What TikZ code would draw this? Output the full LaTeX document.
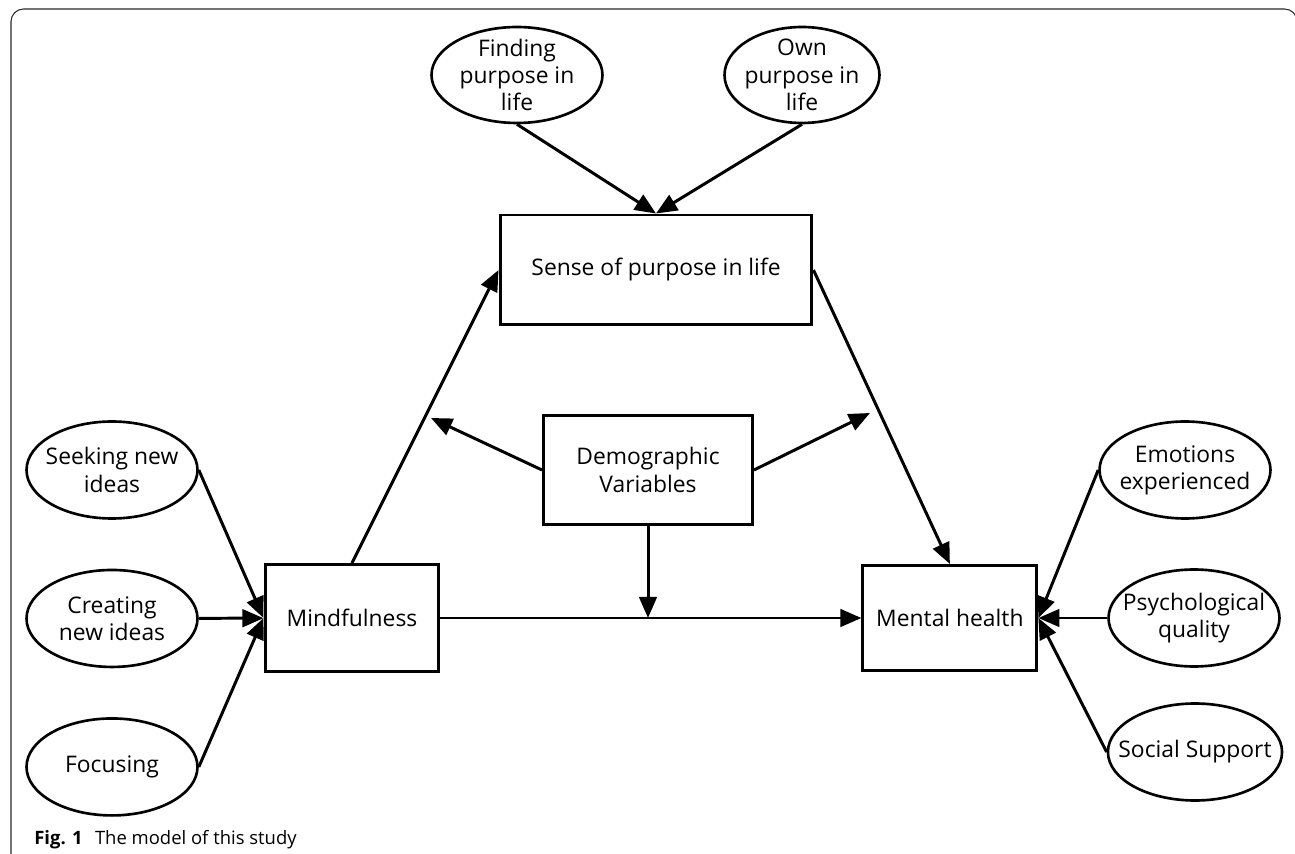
\documentclass[tikz,border=0pt]{standalone}
\usepackage{fontspec}
\setmainfont{Open Sans}
\usetikzlibrary{shapes.geometric,arrows.meta,positioning}

\begin{document}
\begin{tikzpicture}[x=0.02cm,y=-0.02cm,on grid,node distance=2.97cm,
    font=\fontsize{13}{15.5}\selectfont,line width=1.7pt,
    >={Triangle[length=12pt,width=10pt]},
    var/.style={draw,align=center,minimum width=3.48cm,minimum height=2.14cm},
    ind/.style={draw,ellipse,align=center,line width=1.5pt,inner xsep=-0.3cm,
                inner ysep=-0.2cm,minimum width=3.42cm,minimum height=1.94cm}]
   \useasboundingbox (0,0) rectangle (1295,854);
   \draw[line width=0.6pt,black!85,rounded corners=0.25cm]
      (11,854) -- (11,9) -- (1297,9) -- (1297,854);

   \node[ind,minimum height=1.92cm] (fp) at (517,75) {Finding\\purpose in\\life};
   \node[ind,minimum width=3.1cm,minimum height=1.92cm] (op) at (802,75) {Own\\purpose in\\life};
   \node[var,minimum width=6.24cm,minimum height=2.2cm] (sp) at (656,270) {Sense of purpose in life};
   \node[var,minimum width=4.18cm,minimum height=2.18cm] (dv) at (648,470) {Demographic\\Variables};
   \node[var] (mf) at (352,618) {Mindfulness};
   \node[var,minimum height=2.1cm] (mh) [right=11.96cm of mf] {Mental health};

   \node[ind] (sni) at (112,470) {Seeking new\\ideas};
   \node[ind] (cni) [below=of sni] {Creating\\new ideas};
   \node[ind] (foc) [below=of cni] {Focusing};

   \node[ind] (emo) at (1185,470) {Emotions\\experienced};
   \node[ind] (psy) at (1194,618) {Psychological\\quality};
   \node[ind] (soc) at (1195,752) {Social Support};

   \coordinate (m1) at (431,418);
   \coordinate (m2) at (870,413);

   \path[->]
    (fp.south) edge (sp.north)
    (op.south) edge (sp.north)
    (mf.north) edge (sp.west)
    (sp.east) edge (mh.north)
    (mf) edge (mh)
    (dv.west) edge (m1)
    (dv.east) edge (m2)
    (dv.south) edge (dv.south |- mf)
    (sni.east) edge (mf.west)
    (cni) edge (mf)
    (foc.east) edge (mf.west)
    (emo.west) edge (mh.east)
    (psy) edge (mh)
    (soc.west) edge (mh.east);

   \node[anchor=base west,font=\fontsize{10.5}{12}\selectfont] (cap) at (27,844)
      {\textbf{Fig. 1}\hspace{7pt}The model of this study};
\end{tikzpicture}
\end{document}
